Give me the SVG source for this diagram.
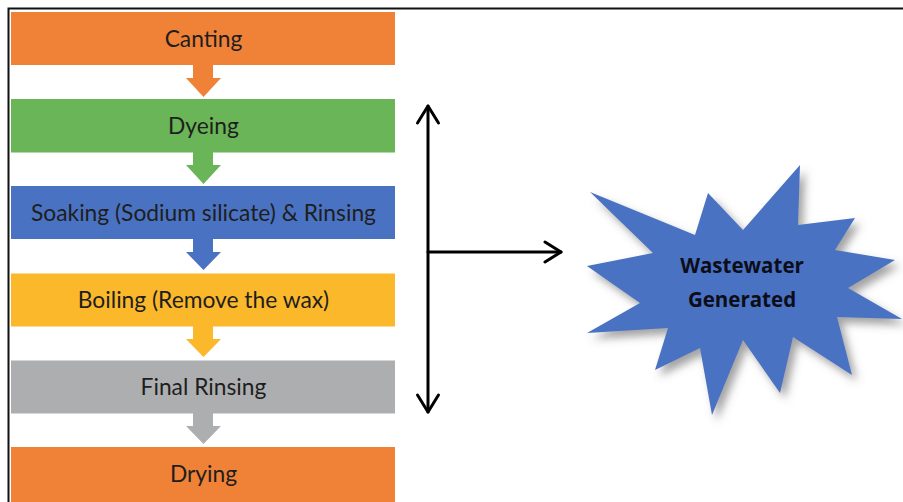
<svg xmlns="http://www.w3.org/2000/svg" width="903" height="502" viewBox="0 0 903 502">
  <style>
    .lbl { font-family: Lato, "Open Sans", "Liberation Sans", sans-serif; font-size: 22.8px; fill: #1e1e1e; text-anchor: middle; }
    .star-lbl { font-family: "Open Sans", Lato, "Liberation Sans", sans-serif; font-size: 20.5px; font-weight: bold; fill: #0d0d1a; text-anchor: middle; }
    .conn { stroke: #000; stroke-width: 3; fill: none; stroke-linecap: round; stroke-linejoin: round; }
  </style>
  <defs>
    <filter id="shadow" x="-20%" y="-20%" width="140%" height="140%">
      <feDropShadow dx="5" dy="6" stdDeviation="4" flood-color="#555" flood-opacity="0.55"/>
    </filter>
  </defs>
  <rect x="0" y="0" width="903" height="502" fill="#fff"/>
  <rect x="8.5" y="8.5" width="905" height="505" fill="none" stroke="#111" stroke-width="2"/>

  <g id="canting">
    <rect x="11" y="12" width="384" height="53" fill="#F08238"/>
    <text class="lbl" x="203.5" y="46.5">Canting</text>
  </g>
  <g id="dyeing">
    <rect x="11" y="99" width="384" height="53.5" fill="#6AB557"/>
    <text class="lbl" x="203.5" y="133.5">Dyeing</text>
  </g>
  <g id="soaking">
    <rect x="11" y="186" width="384" height="53" fill="#4A72C2"/>
    <text class="lbl" x="203.5" y="220.5">Soaking (Sodium silicate) &amp; Rinsing</text>
  </g>
  <g id="boiling">
    <rect x="11" y="273.5" width="384" height="53" fill="#FBB82B"/>
    <text class="lbl" x="203.5" y="307.5">Boiling (Remove the wax)</text>
  </g>
  <g id="final-rinsing">
    <rect x="11" y="360.5" width="384" height="53" fill="#ADAEB0"/>
    <text class="lbl" x="203.5" y="394.5">Final Rinsing</text>
  </g>
  <g id="drying">
    <rect x="11" y="447" width="384" height="56" fill="#F08238"/>
    <text class="lbl" x="203.5" y="481.5">Drying</text>
  </g>

  <g id="wastewater">
    <polygon filter="url(#shadow)" fill="#4A72C2" points="590,192 695,235 708,193 743,230 800,165 798,225 855,218 835,250 895,260 848,288 902,319 837,317 852,375 793,337 780,393 743,340 712,415 700,348 655,370 668,328 587,333 640,303 587,266 653,253"/>
    <text class="star-lbl" x="742" y="273">Wastewater</text>
    <text class="star-lbl" x="742" y="307">Generated</text>
  </g>

  <g id="connectors">
    <polygon fill="#F08238" points="193,65 213,65 213,78 221,78 203.5,97 186,78 193,78"/>
    <polygon fill="#6AB557" points="193,152 213,152 213,165 221,165 203.5,184 186,165 193,165"/>
    <polygon fill="#4A72C2" points="193,239 213,239 213,252 221,252 203.5,270 186,252 193,252"/>
    <polygon fill="#FBB82B" points="193,326 213,326 213,339 221,339 203.5,357 186,339 193,339"/>
    <polygon fill="#ADAEB0" points="193,413 213,413 213,426 221,426 203.5,444 186,426 193,426"/>
    <line class="conn" x1="428" y1="106" x2="428" y2="412"/>
    <polyline class="conn" points="417.5,123 428,106 438.5,123"/>
    <polyline class="conn" points="417.5,395 428,412 438.5,395"/>
    <line class="conn" x1="428" y1="252" x2="561" y2="252"/>
    <polyline class="conn" points="545,242 561,252 545,262"/>
  </g>
</svg>
